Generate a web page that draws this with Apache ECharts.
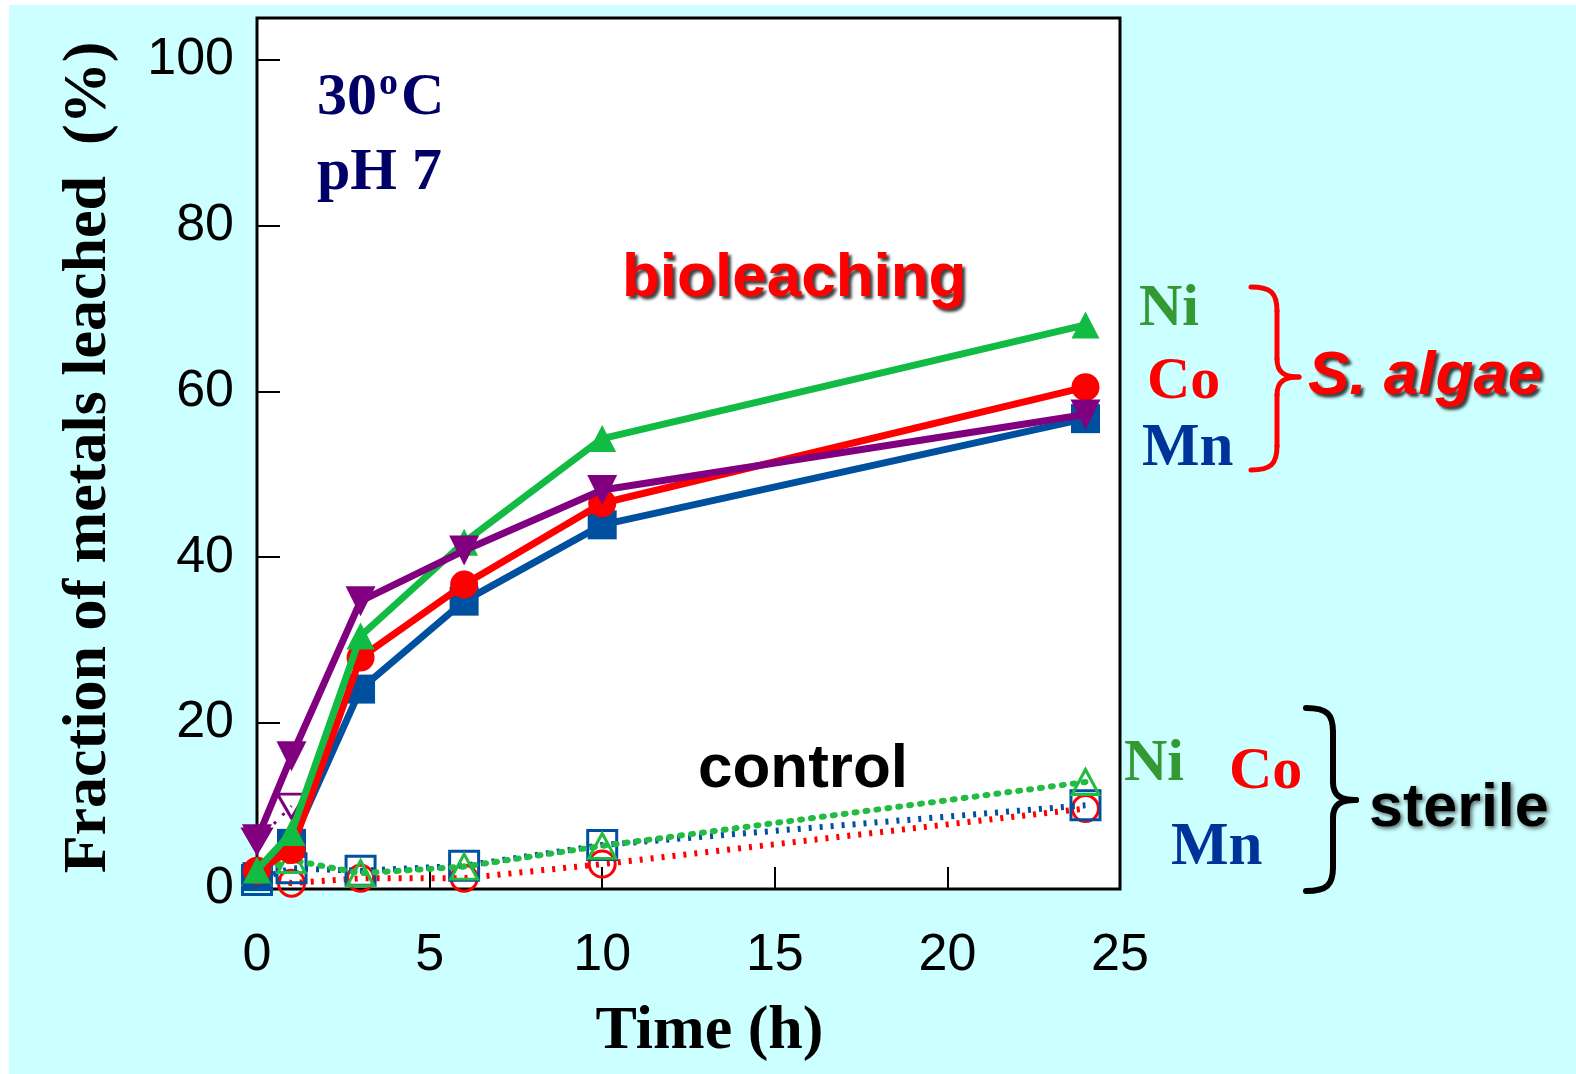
<!DOCTYPE html>
<html>
<head>
<meta charset="utf-8">
<script src="https://cdn.jsdelivr.net/npm/echarts@6/dist/echarts.min.js"></script>
<style>
html,body{margin:0;padding:0;background:#fff;}
#chart{width:1576px;height:1074px;}
</style>
</head>
<body>
<div id="chart"></div>
<script>
// ---- data ----
const times = [0, 1, 3, 6, 10, 24];
// bioleaching with S. algae (filled markers, solid lines)
const niBio = [2.3, 6.8, 30.5, 41.8, 54.3, 68.0];
const coBio = [2.2, 4.7, 27.9, 36.7, 46.5, 60.5];
const mnBio = [1.5, 5.5, 24.1, 34.7, 43.9, 56.7];
const purpleBio = [6.0, 16.0, 34.7, 40.8, 48.1, 57.2];
// sterile control (open markers, dotted lines)
const niCtrl = [2.0, 3.5, 1.9, 2.7, 5.2, 12.9];
const coCtrl = [1.8, 0.7, 1.3, 1.3, 3.0, 9.7];
const mnCtrl = [1.1, 2.5, 2.2, 2.8, 5.3, 10.1];
const purpleCtrlTimes = [0, 1];
const purpleCtrl = [5.8, 10.0];
// axes
const xTickStep = 5, xMin = 0, xMax = 25;
const yTickStep = 20, yMin = 0, yMax = 105;

const pairs = (xs, ys) => xs.map((x, i) => [x, ys[i]]);

function bioSeries(name, vals, color, symbol, size, rotate, z) {
  return {
    type: 'line', name, data: pairs(times, vals), z,
    symbol, symbolSize: size, symbolRotate: rotate || 0,
    itemStyle: { color: color },
    lineStyle: { color: color, width: 7 },
    emphasis: { disabled: true }
  };
}
function ctrlSeries(name, xs, vals, color, symbol, size, rotate, dash, width, cap, offset, z) {
  return {
    type: 'line', name, data: pairs(xs, vals), z,
    symbol, symbolSize: size, symbolRotate: rotate || 0,
    itemStyle: { color: 'rgba(0,0,0,0)', borderColor: color, borderWidth: 3 },
    lineStyle: { color: color, width: width, type: dash, cap: cap, dashOffset: offset || 0 },
    emphasis: { disabled: true }
  };
}

const chart = echarts.init(document.getElementById('chart'), null, { renderer: 'canvas' });

const serif = '"Liberation Serif", "Times New Roman", serif';
const sans = '"Liberation Sans", Arial, sans-serif';
const DY = 5;

function txt(x, y, text, opt) {
  return {
    type: 'text', x: x, y: y + DY, z: 100,
    style: Object.assign({
      text: text, textAlign: 'left', align: 'left',
      textVerticalAlign: 'middle', verticalAlign: 'middle'
    }, opt)
  };
}
function shadowed(o, c, b, dx, dy) {
  return Object.assign(o, {
    textShadowColor: c, textShadowBlur: b, textShadowOffsetX: dx, textShadowOffsetY: dy
  });
}
// curly brace made of bezier curves and lines
function brace(xl, xm, xt, yTop, yMid, yBot, color, w) {
  const st = { stroke: color, lineWidth: w, fill: null, lineCap: 'round' };
  const r = 24;
  const els = [
    { type: 'bezierCurve', shape: { x1: xl, y1: yTop, cpx1: xm - 6, cpy1: yTop, cpx2: xm, cpy2: yTop + 6, x2: xm, y2: yTop + r } },
    { type: 'line', shape: { x1: xm, y1: yTop + r, x2: xm, y2: yMid - 18 } },
    { type: 'bezierCurve', shape: { x1: xm, y1: yMid - 18, cpx1: xm, cpy1: yMid - 4, cpx2: xm + 8, cpy2: yMid, x2: xt, y2: yMid } },
    { type: 'bezierCurve', shape: { x1: xt, y1: yMid, cpx1: xm + 8, cpy1: yMid, cpx2: xm, cpy2: yMid + 4, x2: xm, y2: yMid + 18 } },
    { type: 'line', shape: { x1: xm, y1: yMid + 18, x2: xm, y2: yBot - r } },
    { type: 'bezierCurve', shape: { x1: xm, y1: yBot - r, cpx1: xm, cpy1: yBot - 6, cpx2: xm - 6, cpy2: yBot, x2: xl, y2: yBot } }
  ];
  return els.map(e => Object.assign(e, { z: 100, silent: true, style: st }));
}

const option = {
  animation: false,
  backgroundColor: '#ccffff',
  grid: {
    left: 257, top: 18, width: 863, height: 871,
    show: true, backgroundColor: '#ffffff', borderColor: '#000', borderWidth: 3,
    containLabel: false, outerBoundsMode: 'none'
  },
  xAxis: {
    type: 'value', min: xMin, max: xMax, interval: xTickStep,
    axisLine: { show: false },
    axisTick: { show: true, inside: true, length: 22, lineStyle: { color: '#000', width: 2 } },
    splitLine: { show: false },
    axisLabel: { color: '#000', fontSize: 52, fontFamily: sans, margin: 41 },
    name: 'Time (h)', nameLocation: 'middle', nameGap: 112,
    nameTextStyle: { color: '#000', fontFamily: serif, fontWeight: 'bold', fontSize: 62, padding: [0, 0, 0, 42] }
  },
  yAxis: {
    type: 'value', min: yMin, max: yMax, interval: yTickStep,
    axisLine: { show: false },
    axisTick: { show: true, inside: true, length: 23, lineStyle: { color: '#000', width: 2 } },
    splitLine: { show: false },
    axisLabel: { color: '#000', fontSize: 52, fontFamily: sans, margin: 23, showMaxLabel: false },
    name: 'Fraction of metals leached  (%)', nameLocation: 'middle', nameGap: 137, nameRotate: 90,
    nameTextStyle: { color: '#000', fontFamily: serif, fontWeight: 'bold', fontSize: 62, padding: [0, 8, 0, 0] }
  },
  series: [
    ctrlSeries('Co sterile', times, coCtrl, '#ff0000', 'circle', 26, 0, [3, 8], 6, 'butt', 0, 2),
    ctrlSeries('Mn sterile', times, mnCtrl, '#0050a0', 'rect', 29, 0, [3, 8], 6, 'butt', 5, 3),
    ctrlSeries('Ni sterile', times, niCtrl, '#22bb44', 'triangle', [27, 25], 0, [2, 9], 6, 'round', 0, 4),
    ctrlSeries('sterile (other)', purpleCtrlTimes, purpleCtrl, '#800080', 'triangle', [28, 24], 180, [3, 9], 3, 'butt', 0, 4),
    bioSeries('Mn S. algae', mnBio, '#0050a0', 'rect', 29, 0, 5),
    bioSeries('Co S. algae', coBio, '#ff0000', 'circle', 28, 0, 6),
    bioSeries('Ni S. algae', niBio, '#11bb44', 'triangle', [28, 27], 0, 7),
    bioSeries('S. algae (other)', purpleBio, '#800080', 'triangle', [30, 30], 180, 8)
  ],
  graphic: [
    // white margins of the original picture
    { type: 'rect', shape: { x: 0, y: 0, width: 1576, height: 5 }, style: { fill: '#fff' }, z: 1, silent: true },
    { type: 'rect', shape: { x: 0, y: 0, width: 9, height: 1074 }, style: { fill: '#fff' }, z: 1, silent: true },
    // conditions
    txt(317, 93, '30', { fontFamily: serif, fontWeight: 'bold', fontSize: 60, fill: '#000066' }),
    txt(379, 79, 'o', { fontFamily: serif, fontWeight: 'bold', fontSize: 38, fill: '#000066' }),
    txt(401, 93, 'C', { fontFamily: serif, fontWeight: 'bold', fontSize: 60, fill: '#000066' }),
    txt(317, 168, 'pH 7', { fontFamily: serif, fontWeight: 'bold', fontSize: 60, fill: '#000066' }),
    // annotations
    txt(622, 274, 'bioleaching', shadowed({ fontFamily: sans, fontWeight: 'bold', fontSize: 62, fill: '#ff0000' }, 'rgba(0,0,0,0.75)', 3, 3, 3)),
    txt(698, 765, 'control', { fontFamily: sans, fontWeight: 'bold', fontSize: 62, fill: '#000' }),
    txt(1308, 372, 'S. algae', shadowed({ fontFamily: sans, fontWeight: 'bold', fontStyle: 'italic', fontSize: 62, fill: '#ff0000' }, 'rgba(0,0,0,0.75)', 3, 3, 3)),
    txt(1369, 804, 'sterile', shadowed({ fontFamily: sans, fontWeight: 'bold', fontSize: 61, fill: '#000' }, 'rgba(0,0,0,0.6)', 4, 2, 2)),
    txt(1139, 304, 'Ni', { fontFamily: serif, fontWeight: 'bold', fontSize: 60, fill: '#339933' }),
    txt(1147, 377, 'Co', { fontFamily: serif, fontWeight: 'bold', fontSize: 60, fill: '#ff0000' }),
    txt(1142, 444, 'Mn', { fontFamily: serif, fontWeight: 'bold', fontSize: 61, fill: '#003399' }),
    txt(1124, 759, 'Ni', { fontFamily: serif, fontWeight: 'bold', fontSize: 60, fill: '#339933' }),
    txt(1229, 767, 'Co', { fontFamily: serif, fontWeight: 'bold', fontSize: 60, fill: '#ff0000' }),
    txt(1171, 843, 'Mn', { fontFamily: serif, fontWeight: 'bold', fontSize: 61, fill: '#003399' })
  ].concat(brace(1251, 1277, 1299, 287, 377, 470, '#ff0000', 5))
   .concat(brace(1306, 1333, 1356, 708, 800, 891, '#000000', 6))
};
chart.setOption(option);
</script>
</body>
</html>
